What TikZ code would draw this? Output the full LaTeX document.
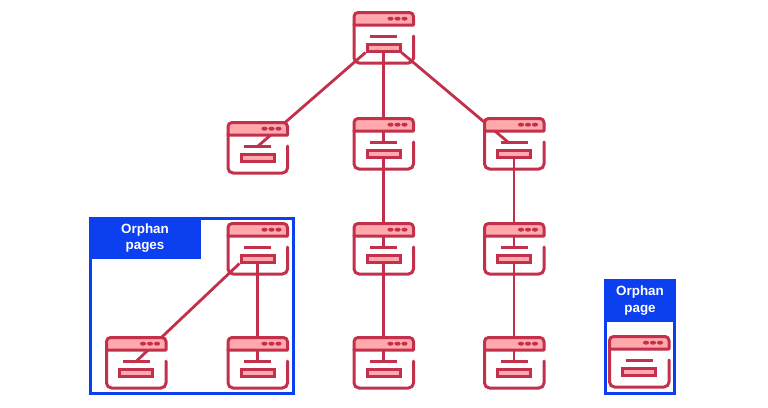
\documentclass[tikz,border=0pt]{standalone}
\usepackage{fontspec}
\setmainfont{Liberation Sans}
\usetikzlibrary{backgrounds,calc}
\definecolor{crim}{HTML}{C2304C}
\definecolor{pinkf}{HTML}{FFA9AC}
\definecolor{bluec}{HTML}{0B3FEF}
\tikzset{
  iconline/.style={draw=crim,line width=3pt,line cap=round,line join=round},
  link/.style={draw=crim,line width=2.8pt},
  btnbox/.style={draw=crim,fill=pinkf,line width=3pt,rectangle,inner sep=0pt,minimum width=33pt,minimum height=7pt},
  barbox/.style={fill=crim,rectangle,inner sep=0pt,minimum width=27pt,minimum height=3pt},
  framebox/.style={draw=bluec,line width=3pt,rectangle,inner sep=0pt},
  tagbox/.style={fill=bluec,rectangle,inner sep=0pt,text=white,align=center,font=\bfseries\fontsize{13.4}{16.5}\selectfont},
  icon/.pic={
    \path[iconline,fill=pinkf] (0,13) [rounded corners=4pt] -- (0,0.5) -- (59.5,0.5) [sharp corners] -- (59.5,13) -- cycle;
    \path[iconline,rounded corners=5pt] (59.5,24) -- (59.5,51) -- (0,51) -- (0,12);
    \node[barbox] (-bar) at (29.5,24.5) {};
    \node[btnbox] (-btn) at (29.5,35.5) {};
    \foreach \dx in {36.5,43.5,50.5}{\fill[crim] (\dx,6.7) ellipse (3.1pt and 2pt);}
  }
}
\begin{document}
\begin{tikzpicture}[x=1pt,y=-1pt]
\useasboundingbox (0,0) rectangle (768,407);
\node[framebox,minimum width=203pt,minimum height=175pt] (boxA) at (192,305.5) {};
\node[tagbox,minimum width=111pt,minimum height=41pt] (tagA) at (145,238) {Orphan\\pages};
\node[framebox,minimum width=69pt,minimum height=113pt] (boxB) at (640,336.5) {};
\node[tagbox,minimum width=71pt,minimum height=43pt] (tagB) at (640,300.5) {Orphan\\page};
\pic (root) at (354,12) {icon};
\pic (l1) at (228,122) {icon};
\pic (m1) at (354,118) {icon};
\pic (r1) at (484.5,118) {icon};
\pic (m2) at (354,223) {icon};
\pic (r2) at (484.5,223) {icon};
\pic (m3) at (354,337) {icon};
\pic (r3) at (484.5,337) {icon};
\pic (o0) at (228,223) {icon};
\pic (o1) at (106.5,337) {icon};
\pic (o2) at (228,337) {icon};
\pic (o3) at (609.5,336) {icon};
\begin{scope}[on background layer]
\fill[white] (0,0) rectangle (768,407);
\draw[link] (root-btn.south west) -- (l1-bar.center);
\draw[link] (root-btn.south) -- (m1-bar.center);
\draw[link] (root-btn.south east) -- ($(r1-bar.west)!0.3!(r1-bar.east)$);
\draw[link] (m1-btn.south) -- (m2-bar.center);
\draw[link] (m2-btn.south) -- (m3-bar.center);
\draw[link] (r1-btn.south) -- (r2-bar.center);
\draw[link] (r2-btn.south) -- (r3-bar.center);
\draw[link] (o0-btn.south west) -- (o1-bar.center);
\draw[link] (o0-btn.south) -- (o2-bar.center);
\end{scope}
\end{tikzpicture}
\end{document}
